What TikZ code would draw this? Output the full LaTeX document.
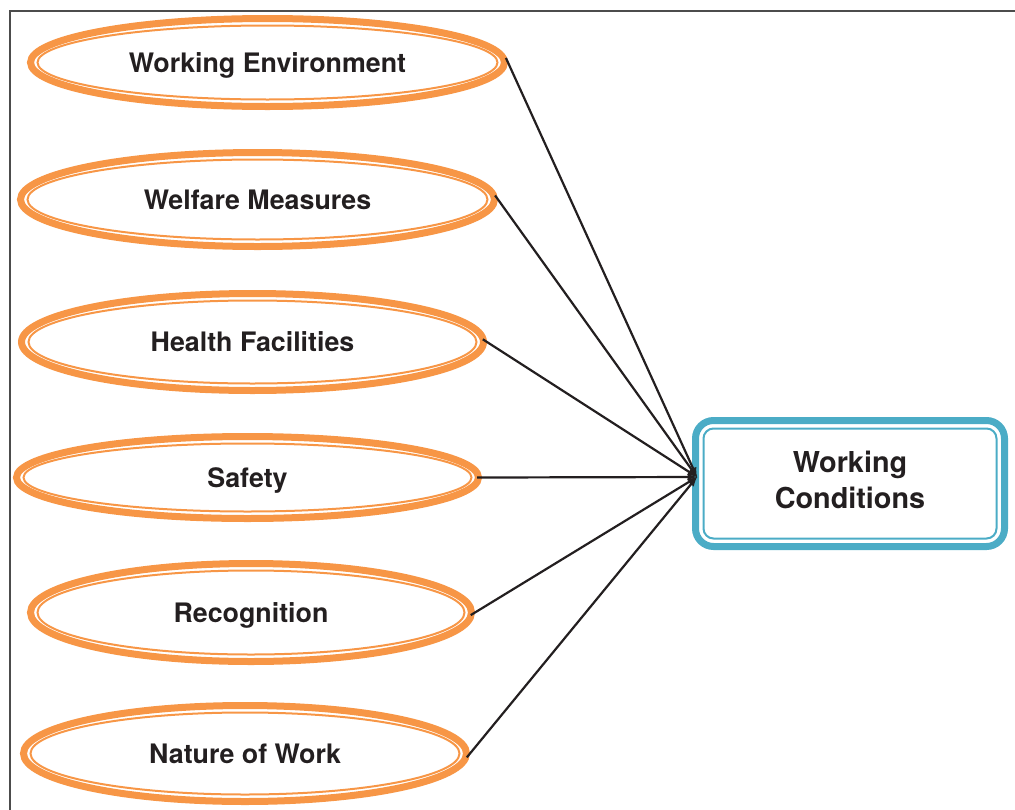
\documentclass[tikz,border=0pt]{standalone}
\usepackage{fontspec}
\setmainfont{TeX Gyre Heros}
\usetikzlibrary{shapes.geometric}
\definecolor{ringorange}{HTML}{F79646}
\definecolor{boxblue}{HTML}{4BACC6}
\definecolor{inkblack}{HTML}{231F20}

\begin{document}
\begin{tikzpicture}[x=1pt,y=-1pt,
    factor/.style={ellipse,draw=ringorange,line width=7pt,inner sep=0pt,text=inkblack,
        font=\fontsize{26.8}{30}\selectfont\bfseries,text height=19.3pt,text depth=0pt},
    ring/.style={draw=ringorange,line width=2pt},
    target/.style={rectangle,rounded corners=18pt,draw=boxblue,line width=7pt,
        minimum width=309pt,minimum height=126pt,align=center,text=inkblack,text depth=8pt,
        font=\fontsize{28.8}{36}\selectfont\bfseries},
    link/.style={-latex,line width=2.2pt,draw=inkblack,shorten <=-5pt}]
                \useasboundingbox (0,0) rectangle (1015,809);
                \draw[gray!60!black,line width=1.5pt] (10,812) -- (10,11) -- (1018,11);
                \foreach \n/\cx/\cy/\w/\h/\t in {we/267.5/62.5/474/88/Working Environment,
                    wm/257.5/199.5/474/94/Welfare Measures,
                    hf/252.5/342/462/97/Health Facilities,
                    sa/247.5/477.5/462/82/Safety,
                    re/251/612.5/441/98/Recognition,
                    nw/245/753.5/443/96/Nature of Work}
                {\node[factor,minimum width=\w pt,minimum height=\h pt] (\n) at (\cx,\cy) {\t};
                 \draw[ring] (\n.center) ellipse ({\w/2-7} and {\h/2-7});}
                \node[target] (wc) at (850,483.5) {Working\\Conditions};
                \draw[boxblue,line width=2pt,rounded corners=10pt]
                    ([shift={(11.5,11.5)}]wc.north west) rectangle ([shift={(-11.5,-11.5)}]wc.south east);
                \coordinate (hub) at (697,477);
                \foreach \n in {we,wm,hf,sa,re,nw}
                {\draw[link] (\n.east) -- (hub);}
            \end{tikzpicture}
\end{document}
